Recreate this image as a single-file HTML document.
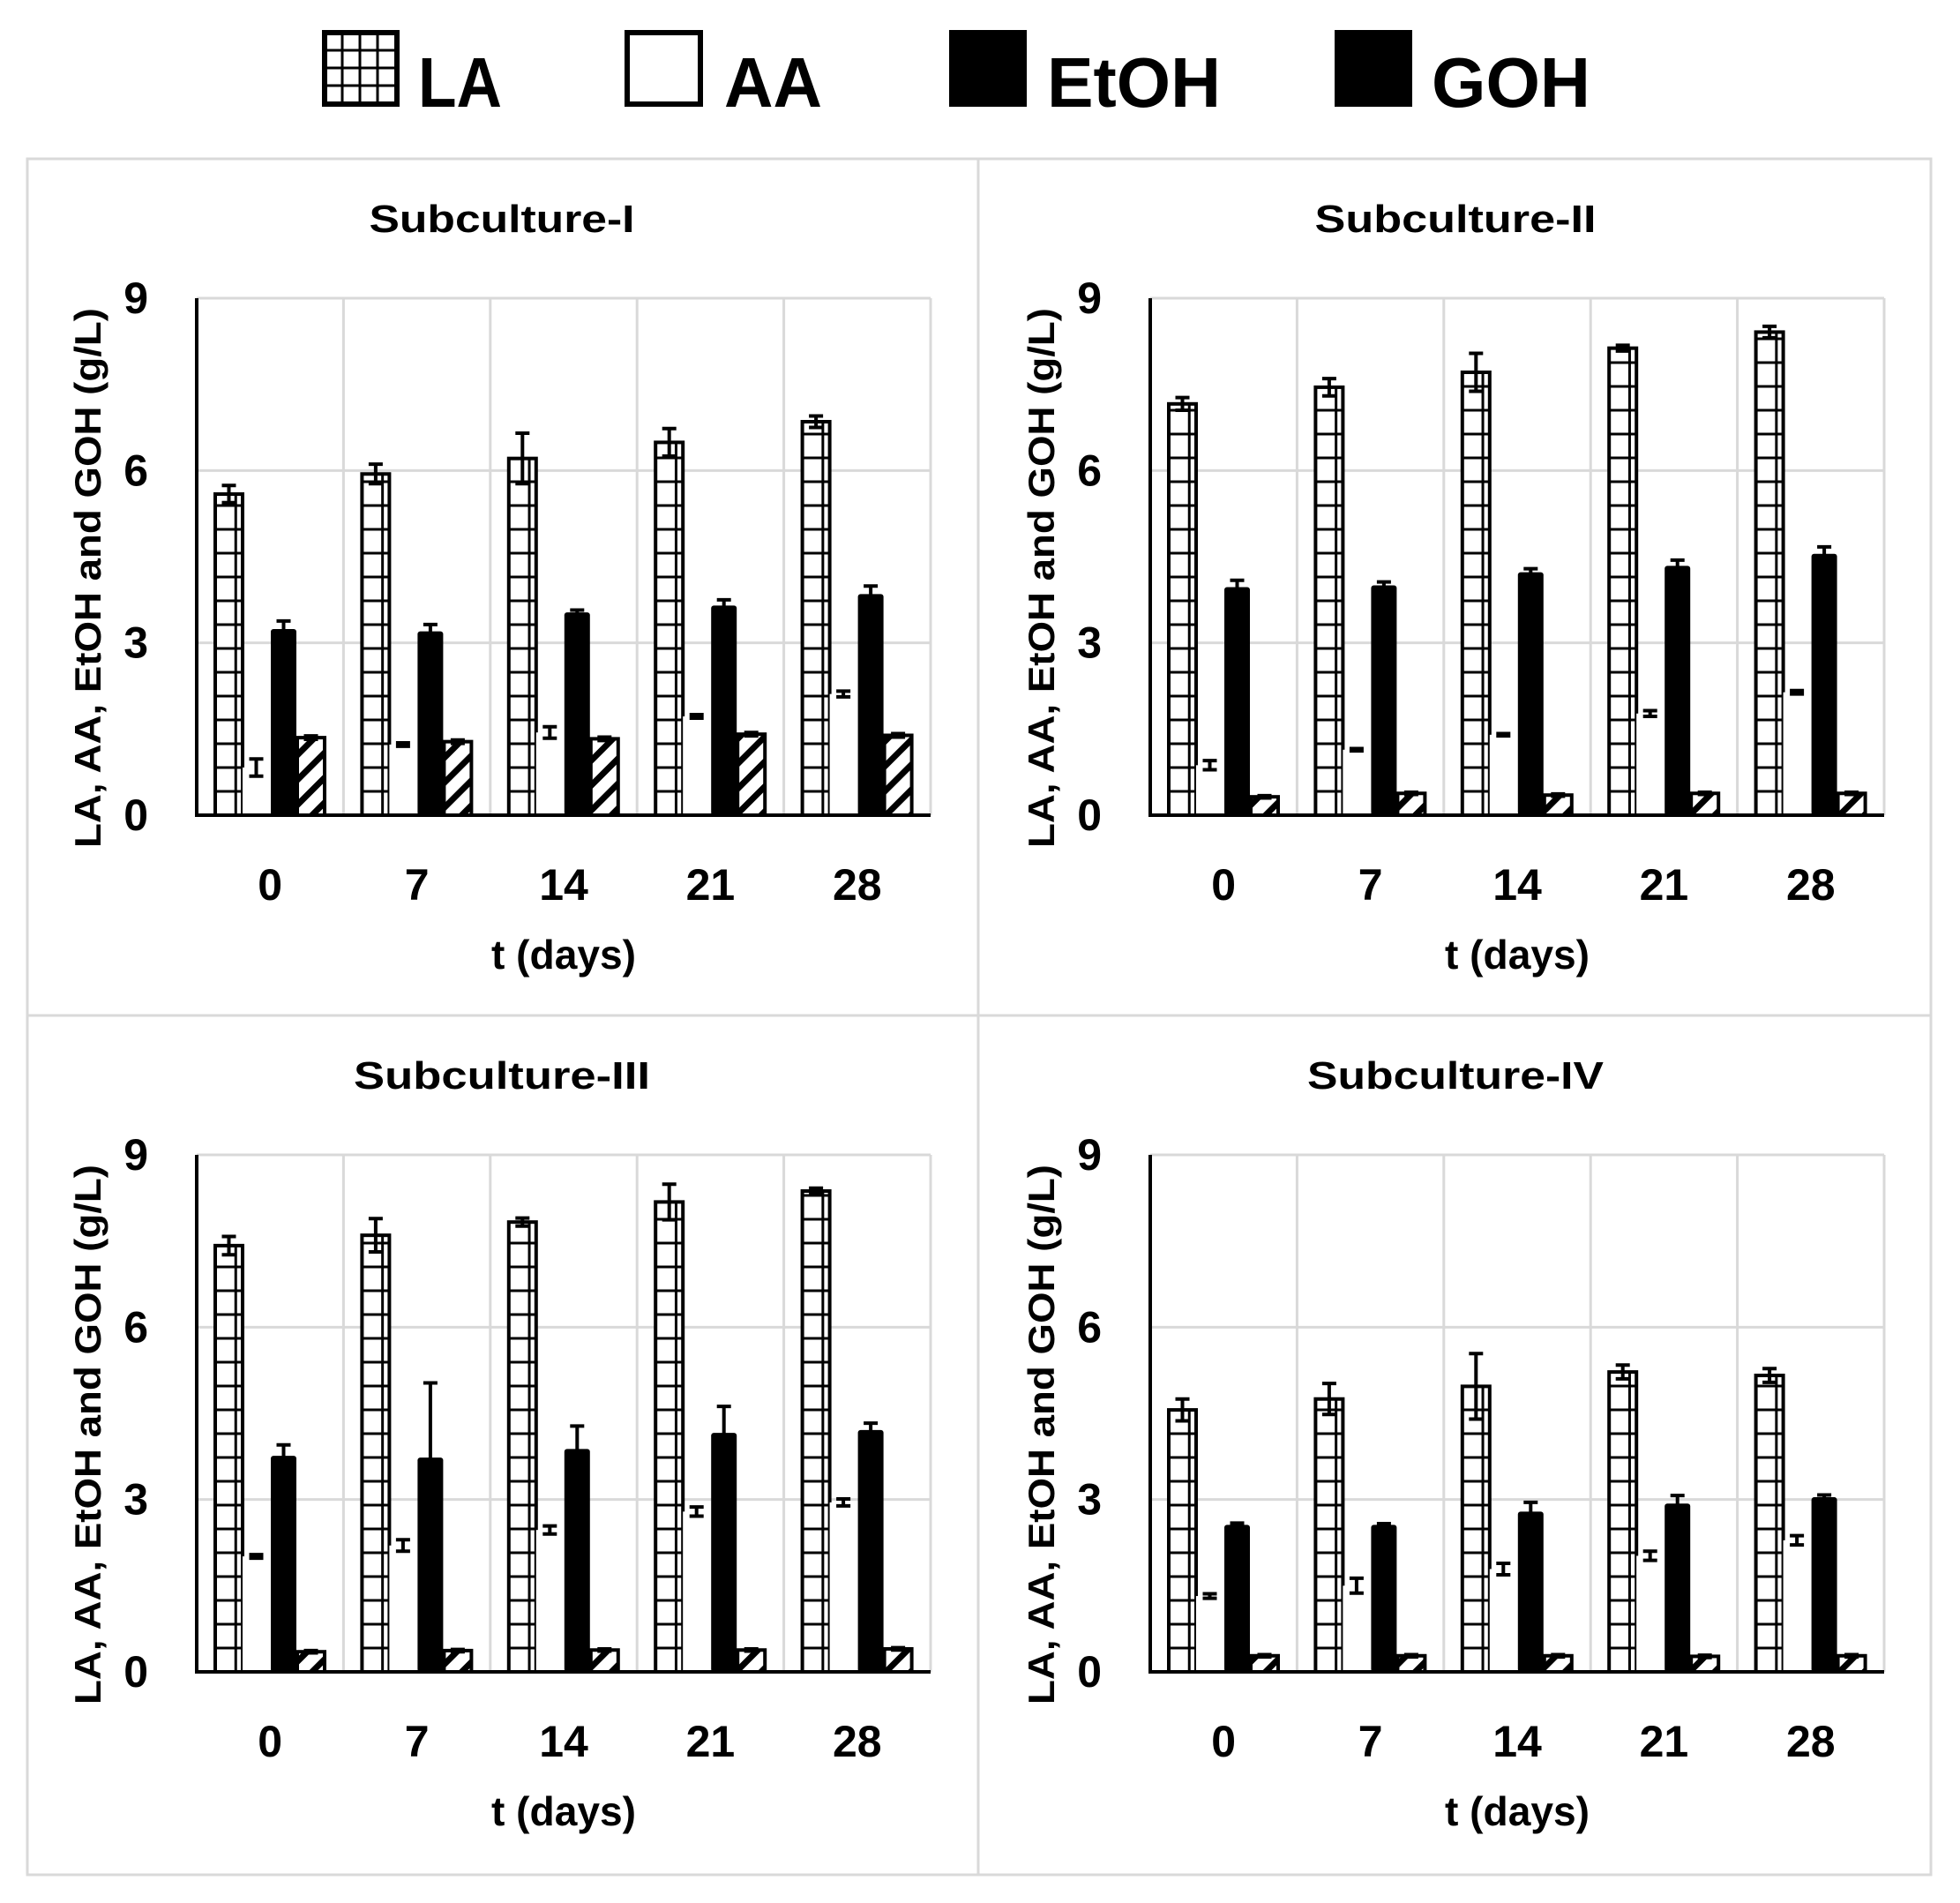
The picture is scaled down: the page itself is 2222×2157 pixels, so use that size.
<!DOCTYPE html>
<html><head><meta charset="utf-8"><style>
html,body{margin:0;padding:0;background:#fff;}
svg{display:block;font-family:"Liberation Sans",Arial,sans-serif;font-weight:bold;}
</style></head><body>
<svg id="chart" width="2222" height="2157" viewBox="0 0 2222 2157" xmlns="http://www.w3.org/2000/svg">
<defs>
<pattern id="hatch" patternUnits="userSpaceOnUse" width="20" height="20" patternTransform="rotate(45)">
<rect x="0" y="0" width="20" height="20" fill="#fff"/><rect x="0" y="0" width="7" height="20" fill="#000"/>
</pattern>
</defs>
<g id="legend">
 <g>
  <rect x="368" y="37" width="82" height="81" fill="#fff" stroke="#000" stroke-width="6"/>
  <path d="M368 57H450M368 77H450M368 97H450M388 37V118M408 37V118M428 37V118" stroke="#000" stroke-width="3"/>
  <text x="474" y="121" font-size="80" textLength="95" lengthAdjust="spacingAndGlyphs">LA</text>
 </g>
 <g>
  <rect x="711" y="37" width="83" height="81" fill="#fff" stroke="#000" stroke-width="6"/>
  <text x="821" y="121" font-size="80" textLength="111" lengthAdjust="spacingAndGlyphs">AA</text>
 </g>
 <g>
  <rect x="1076" y="34" width="88" height="87" fill="#000"/>
  <text x="1187" y="121" font-size="80" textLength="197" lengthAdjust="spacingAndGlyphs">EtOH</text>
 </g>
 <g>
  <rect x="1513" y="34" width="88" height="87" fill="#000"/>
  <text x="1623" y="121" font-size="80" textLength="180" lengthAdjust="spacingAndGlyphs">GOH</text>
 </g>
</g>
<g id="frame" stroke="#d9d9d9" stroke-width="3" fill="none">
 <rect x="31" y="180" width="2158" height="1945"/>
 <line x1="1109" y1="180" x2="1109" y2="2125"/>
 <line x1="31" y1="1151" x2="2189" y2="1151"/>
</g>
<g id="panels"></g>
</svg>
<script>
const categories = ["0","7","14","21","28"];
const yTicks = [0,3,6,9];
const panelTitles = ["Subculture-I","Subculture-II","Subculture-III","Subculture-IV"];
const seriesNames = ["LA","AA","EtOH","GOH"];
const la1 = [5.59,5.94,6.21,6.49,6.85];
const la1Err = [0.15,0.17,0.44,0.24,0.10];
const aa1 = [0.83,1.23,1.44,1.72,2.11];
const aa1Err = [0.15,0.03,0.10,0.03,0.05];
const etoh1 = [3.24,3.20,3.53,3.65,3.85];
const etoh1Err = [0.14,0.12,0.04,0.10,0.14];
const goh1 = [1.35,1.28,1.33,1.41,1.39];
const goh1Err = [0.03,0.03,0.03,0.03,0.03];
const la2 = [7.16,7.45,7.71,8.13,8.41];
const la2Err = [0.11,0.15,0.33,0.05,0.10];
const aa2 = [0.87,1.14,1.40,1.77,2.14];
const aa2Err = [0.08,0.02,0.02,0.05,0.03];
const etoh2 = [3.97,4.00,4.23,4.34,4.55];
const etoh2Err = [0.12,0.06,0.06,0.10,0.12];
const goh2 = [0.32,0.38,0.35,0.38,0.38];
const goh2Err = [0.02,0.02,0.02,0.02,0.02];
const la3 = [7.42,7.60,7.83,8.18,8.37];
const la3Err = [0.16,0.29,0.07,0.31,0.05];
const aa3 = [2.01,2.20,2.47,2.79,2.95];
const aa3Err = [0.03,0.10,0.07,0.08,0.06];
const etoh3 = [3.76,3.73,3.88,4.16,4.21];
const etoh3Err = [0.19,1.30,0.40,0.46,0.12];
const goh3 = [0.35,0.37,0.38,0.38,0.40];
const goh3Err = [0.02,0.02,0.02,0.02,0.02];
const la4 = [4.56,4.75,4.97,5.22,5.16];
const la4Err = [0.19,0.27,0.57,0.12,0.12];
const aa4 = [1.32,1.50,1.79,2.02,2.29];
const aa4Err = [0.04,0.13,0.10,0.08,0.08];
const etoh4 = [2.56,2.56,2.79,2.93,3.04];
const etoh4Err = [0.03,0.02,0.16,0.14,0.04];
const goh4 = [0.28,0.28,0.28,0.27,0.28];
const goh4Err = [0.02,0.02,0.02,0.02,0.02];

const panelSeries = [[la1,aa1,etoh1,goh1],[la2,aa2,etoh2,goh2],[la3,aa3,etoh3,goh3],[la4,aa4,etoh4,goh4]];
const panelErrors = [[la1Err,aa1Err,etoh1Err,goh1Err],[la2Err,aa2Err,etoh2Err,goh2Err],[la3Err,aa3Err,etoh3Err,goh3Err],[la4Err,aa4Err,etoh4Err,goh4Err]];

const NS = "http://www.w3.org/2000/svg";
function mk(tag, attrs, parent){const e=document.createElementNS(NS,tag);for(const k in attrs)e.setAttribute(k,attrs[k]);parent.appendChild(e);return e;}
const root = document.getElementById('panels');
const offsets = [[0,0],[1081,0],[0,971],[1081,971]];
const AX0=223, AX1=1055, YTOP=338, YBASE=924, YMAX=9;
const catW=(AX1-AX0)/categories.length, barW=31, groupOff=21;

offsets.forEach((o,p)=>{
  const g=mk('g',{transform:`translate(${o[0]},${o[1]})`},root);
  
  
  const yS=v=>YBASE-(v/YMAX)*(YBASE-YTOP);
  const xC=i=>AX0+i*catW;
  yTicks.forEach(t=>{ if(t>0){const l=mk('line',{x1:AX0,x2:AX1,y1:yS(t),y2:yS(t),stroke:'#d9d9d9','stroke-width':3},g);
    
    }
    const tx=mk('text',{x:AX0-55,y:yS(t)+17,'font-size':50,'text-anchor':'end'},g);tx.textContent=t;
    
    
  });
  for(let i=1;i<=categories.length;i++){const l=mk('line',{x1:xC(i),x2:xC(i),y1:YTOP,y2:YBASE,stroke:'#d9d9d9','stroke-width':3},g);
    
    }
  const series=panelSeries[p], errs=panelErrors[p];
  series.forEach((vals,s)=>{
    vals.forEach((v,i)=>{
      const x=xC(i)+groupOff+s*barW, y=yS(v), h=YBASE-y;
      const bg=mk('g',{},g);
      
      
      if(s===0){
        mk('rect',{x:x,y:y,width:barW,height:h,fill:'#fff'},bg);
        let d='';
        for(let yy=YBASE-27; yy>y+4; yy-=27) d+=`M${x} ${yy}H${x+barW}`;
        d+=`M${x+barW*0.75} ${y}V${YBASE}`;
        mk('path',{d:d,stroke:'#000','stroke-width':3,fill:'none'},bg);
        mk('rect',{x:x,y:y,width:barW,height:h,fill:'none',stroke:'#000','stroke-width':4},bg);
      } else if(s===1){
        mk('rect',{x:x,y:y,width:barW,height:h,fill:'#fff'},bg);
      } else if(s===2){
        mk('rect',{x:x+1,y:y,width:barW-2,height:h,fill:'#000',rx:3},bg);
      } else {
        mk('rect',{x:x,y:y,width:barW,height:h,fill:'url(#hatch)',stroke:'#000','stroke-width':4},bg);
      }
      const e=errs[s][i], cx=x+barW/2;
      const eb=mk('path',{d:`M${cx} ${yS(v+e)}V${yS(v-e)}M${cx-8} ${yS(v+e)}H${cx+8}M${cx-8} ${yS(v-e)}H${cx+8}`,stroke:'#000','stroke-width':4,fill:'none'},g);
      
      
    });
  });
  const ax=mk('path',{d:`M${AX0} ${YTOP}V${YBASE}H${AX1}`,stroke:'#000','stroke-width':4,fill:'none'},g);
  
  
  categories.forEach((c,i)=>{
    const t=mk('text',{x:xC(i)+catW/2,y:YBASE+96,'font-size':50,'text-anchor':'middle'},g);t.textContent=c;
    
    
  });
  const xt=mk('text',{x:(AX0+AX1)/2,y:YBASE+174,'font-size':46,'text-anchor':'middle',textLength:164,lengthAdjust:'spacingAndGlyphs'},g);xt.textContent='t (days)';
  
  
  const yt=mk('text',{x:0,y:0,'font-size':42,'text-anchor':'middle',transform:`translate(114,655) rotate(-90)`,textLength:612,lengthAdjust:'spacingAndGlyphs'},g);yt.textContent='LA, AA, EtOH and GOH (g/L)';
  
  
  const tt=mk('text',{x:569,y:263,'font-size':44,'text-anchor':'middle',textLength:[301,319,336,336][p],lengthAdjust:'spacingAndGlyphs'},g);tt.textContent=panelTitles[p];
  
  
});
</script>
</body></html>
